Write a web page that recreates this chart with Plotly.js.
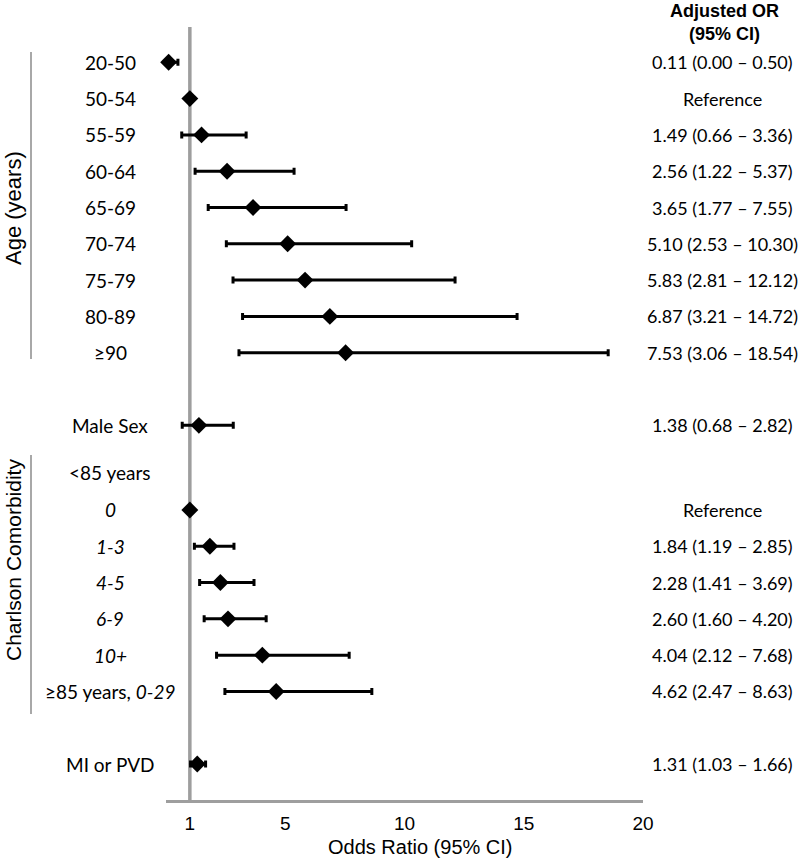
<!DOCTYPE html>
<html>
<head>
<meta charset="utf-8">
<script src="https://cdn.plot.ly/plotly-3.0.1.min.js"></script>
<style>html,body{margin:0;padding:0;background:#fff;}#chart{width:800px;height:861px;}</style>
</head>
<body>
<div id="chart"></div>
<script>
// ---- Data ----
const categories = ['20-50','50-54','55-59','60-64','65-69','70-74','75-79','80-89','≥90',
  'Male Sex',
  '<i>0</i>','<i>1-3</i>','<i>4-5</i>','<i>6-9</i>','<i>10+</i>','≥85 years, <i>0-29</i>',
  'MI or PVD'];
const oddsRatio = [0.11,1.00,1.49,2.56,3.65,5.10,5.83,6.87,7.53, 1.38, 1.00,1.84,2.28,2.60,4.04,4.62, 1.31];
const ciLow     = [0.00,null,0.66,1.22,1.77,2.53,2.81,3.21,3.06, 0.68, null,1.19,1.41,1.60,2.12,2.47, 1.03];
const ciHigh    = [0.50,null,3.36,5.37,7.55,10.30,12.12,14.72,18.54, 2.82, null,2.85,3.69,4.20,7.68,8.63, 1.66];
const groupTitles = ['Age (years)','Charlson Comorbidity'];
const subHeading = '&lt;85 years';
const xTicks = [1,5,10,15,20];

// ---- Layout helpers (pixel geometry) ----
const L = 166, R = 643, T = 27, B = 800;
const xp = px => (px - L) / (R - L);
const yp = py => (B - py) / (B - T);
// row slots (row units), following the group structure of the figure
const rowY = [];
for (let i = 0; i < 9; i++) rowY.push(i);      // age rows
rowY.push(10);                                  // male sex
const subHeadY = 11.3;
for (let i = 0; i < 6; i++) rowY.push(12.33 + i); // charlson rows
rowY.push(19.33);                               // MI or PVD

const errPlus = oddsRatio.map((v,i) => ciHigh[i] === null ? 0 : +(ciHigh[i] - v).toFixed(2));
const errMinus = oddsRatio.map((v,i) => ciLow[i] === null ? 0 : +(v - ciLow[i]).toFixed(2));

const trace = {
  type: 'scatter', mode: 'markers',
  x: oddsRatio, y: rowY,
  marker: {symbol: 'diamond', size: 13, color: '#000'},
  error_x: {type: 'data', symmetric: false, array: errPlus, arrayminus: errMinus,
            color: '#000', thickness: 3, width: 3.5},
  cliponaxis: false, hoverinfo: 'skip', showlegend: false
};

const labelFont = {family: 'Lato, sans-serif', size: 19, color: '#000'};
const valueFont = {family: 'Lato, sans-serif', size: 18, color: '#000'};
const annotations = [];
categories.forEach((c, i) => {
  annotations.push({text: c, x: xp(110), xref: 'paper', y: rowY[i], yref: 'y',
    xanchor: 'center', yanchor: 'middle', showarrow: false, font: labelFont});
  const txt = ciLow[i] === null ? 'Reference'
    : `${oddsRatio[i].toFixed(2)} (${ciLow[i].toFixed(2)} – ${ciHigh[i].toFixed(2)})`;
  annotations.push({text: txt, x: xp(722), xref: 'paper', y: rowY[i], yref: 'y',
    xanchor: 'center', yanchor: 'middle', showarrow: false, font: valueFont});
});
annotations.push({text: subHeading, x: xp(110), xref: 'paper', y: subHeadY, yref: 'y',
  xanchor: 'center', yanchor: 'middle', showarrow: false, font: labelFont});
annotations.push({text: '<b>Adjusted OR</b><br><b>(95% CI)</b>', x: xp(724), xref: 'paper',
  y: yp(23), yref: 'paper', xanchor: 'center', yanchor: 'middle', showarrow: false,
  font: {family: 'Liberation Sans, Arial, sans-serif', size: 18, color: '#000'}});
annotations.push({text: groupTitles[0], x: xp(13), xref: 'paper', y: yp(208), yref: 'paper',
  textangle: -90, xanchor: 'center', yanchor: 'middle', showarrow: false,
  font: {family: 'Liberation Sans, Arial, sans-serif', size: 22, color: '#000'}});
annotations.push({text: groupTitles[1], x: xp(13), xref: 'paper', y: yp(560), yref: 'paper',
  textangle: -90, xanchor: 'center', yanchor: 'middle', showarrow: false,
  font: {family: 'Liberation Sans, Arial, sans-serif', size: 21, color: '#000'}});
annotations.push({text: 'Odds Ratio (95% CI)', x: xp(420), xref: 'paper', y: yp(847), yref: 'paper',
  xanchor: 'center', yanchor: 'middle', showarrow: false,
  font: {family: 'Liberation Sans, Arial, sans-serif', size: 20, color: '#000'}});

const grey = '#9e9e9e';
const shapes = [
  {type: 'line', xref: 'x', yref: 'paper', x0: 1, x1: 1, y0: 0, y1: 1,
   line: {color: grey, width: 3.5}, layer: 'below'},
  {type: 'line', xref: 'paper', yref: 'paper', x0: xp(31), x1: xp(31), y0: yp(52), y1: yp(359),
   line: {color: '#a8a8a8', width: 2}},
  {type: 'line', xref: 'paper', yref: 'paper', x0: xp(31), x1: xp(31), y0: yp(455), y1: yp(714),
   line: {color: '#a8a8a8', width: 2}}
];

const layout = {
  width: 800, height: 861,
  margin: {l: L, r: 800 - R, t: T, b: 861 - B},
  paper_bgcolor: '#fff', plot_bgcolor: '#fff',
  xaxis: {range: [0, 20], tickvals: xTicks, ticktext: xTicks.map(String),
    showgrid: false, zeroline: false, showline: true, linecolor: grey, linewidth: 3,
    ticks: 'outside', ticklen: 4, tickcolor: 'rgba(0,0,0,0)',
    tickfont: {family: 'Liberation Sans, Arial, sans-serif', size: 19, color: '#000'}},
  yaxis: {range: [20.32, -0.972], showgrid: false, zeroline: false, showline: false,
    showticklabels: false, ticks: ''},
  shapes: shapes, annotations: annotations
};

Plotly.newPlot('chart', [trace], layout, {displayModeBar: false, staticPlot: true});
</script>
</body>
</html>
